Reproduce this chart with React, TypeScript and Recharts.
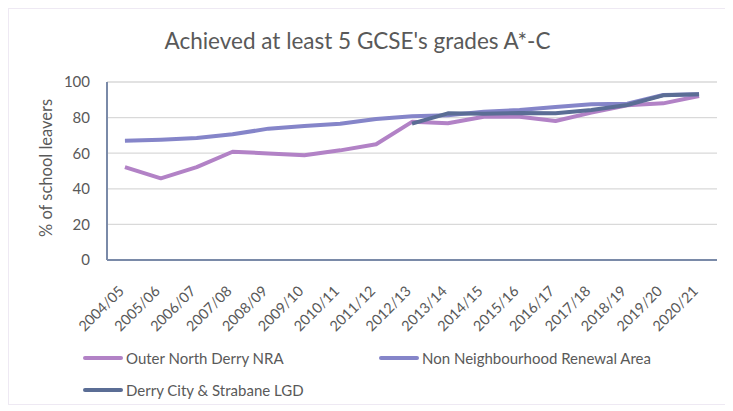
import React from 'react';
import { LineChart, Line, XAxis, YAxis, CartesianGrid } from 'recharts';

const years = ['2004/05','2005/06','2006/07','2007/08','2008/09','2009/10','2010/11','2011/12','2012/13','2013/14','2014/15','2015/16','2016/17','2017/18','2018/19','2019/20','2020/21'];
const outerNorth = [52.2, 45.9, 52.2, 60.8, 59.9, 58.8, 61.6, 65.0, 77.6, 76.8, 80.5, 80.5, 78.1, 82.8, 86.9, 88.0, 92.1];
const nonNRA = [67.0, 67.6, 68.5, 70.6, 73.8, 75.3, 76.6, 79.2, 80.7, 81.3, 83.3, 84.3, 86.0, 87.5, 87.8, 92.7, 93.1];
const lgd: (number | null)[] = [null, null, null, null, null, null, null, null, 76.6, 82.4, 82.2, 82.6, 82.4, 84.3, 87.1, 92.5, 93.1];
const yTicks = [0, 20, 40, 60, 80, 100];

const series = [
  { key: 'outer', name: 'Outer North Derry NRA', color: '#b282c6' },
  { key: 'non', name: 'Non Neighbourhood Renewal Area', color: '#8585c9' },
  { key: 'lgd', name: 'Derry City & Strabane LGD', color: '#5b6d95' },
];

const data = years.map((y, i) => ({ year: y, outer: outerNorth[i], non: nonNRA[i], lgd: lgd[i] }));

const FONT = 'Lato, "Liberation Sans", sans-serif';
const TEXT = '#595959';

const XTick = (props: any) => {
  const { x, y, payload } = props;
  return (
    <g transform={`translate(${x},${y + 24})`}>
      <text transform="rotate(-45)" textAnchor="end" fontSize={14.5} fill={TEXT} fontFamily={FONT}>
        {payload.value}
      </text>
    </g>
  );
};

const legendPos = [
  { left: 74, top: 340 },
  { left: 370, top: 340 },
  { left: 74, top: 372 },
];

export default function App() {
  return (
    <div style={{ position: 'relative', width: 725, height: 397, background: '#fff', boxShadow: '-2px 3px 5px rgba(200,170,230,0.5)', border: '1px solid #eee9f3', boxSizing: 'border-box', fontFamily: FONT }}>
      <div style={{ position: 'absolute', left: -14, width: 725, top: 18, textAlign: 'center', fontSize: 22.5, color: TEXT }}>
        Achieved at least 5 GCSE's grades A*-C
      </div>
      <div style={{ position: 'absolute', left: 0, top: 0 }}>
        <LineChart width={725} height={397} data={data} margin={{ top: 73, right: 17, left: 0, bottom: 0 }}>
          <CartesianGrid vertical={false} stroke="#d9d9d9" strokeWidth={1.3} />
          <XAxis dataKey="year" scale="band" height={146} interval={0} tick={<XTick />} tickLine={false} axisLine={{ stroke: '#7a8aa8', strokeWidth: 2 }} />
          <YAxis width={98} domain={[0, 100]} ticks={yTicks} tickLine={false} tickSize={6} tickMargin={11}
            axisLine={{ stroke: '#7a8aa8', strokeWidth: 2 }}
            tick={{ fill: TEXT, fontSize: 15, fontFamily: FONT }}
            label={{ value: '% of school leavers', angle: -90, position: 'insideLeft', offset: 37, dy: 66, style: { fill: TEXT, fontSize: 16.5, fontFamily: FONT } }} />
          {series.map((s) => (
            <Line key={s.key} dataKey={s.key} name={s.name} stroke={s.color} strokeWidth={4} dot={false} isAnimationActive={false} connectNulls={false} strokeLinejoin="round" />
          ))}
        </LineChart>
      </div>
      {series.map((s, i) => (
        <div key={s.key} style={{ position: 'absolute', left: legendPos[i].left, top: legendPos[i].top, display: 'flex', alignItems: 'center', fontSize: 15, color: TEXT, whiteSpace: 'nowrap' }}>
          <span style={{ display: 'inline-block', width: 40, height: 4, borderRadius: 2, background: s.color, marginRight: 3 }} />
          {s.name}
        </div>
      ))}
    </div>
  );
}
